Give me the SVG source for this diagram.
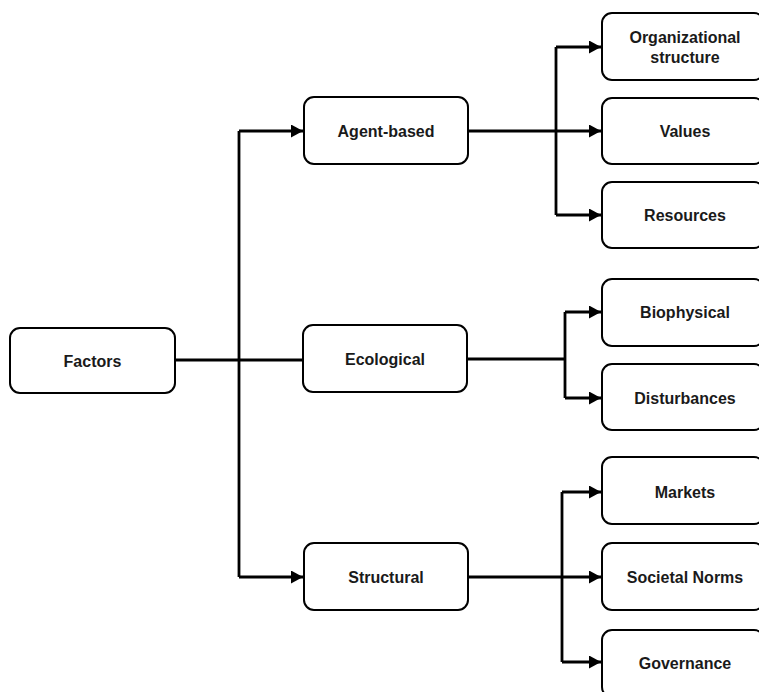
<svg xmlns="http://www.w3.org/2000/svg" width="759" height="692" viewBox="0 0 759 692">
<defs>
<marker id="ah" markerUnits="userSpaceOnUse" markerWidth="12" markerHeight="13" viewBox="0 0 12 13" refX="12" refY="6.5" orient="auto">
<path d="M0,0 L12,6.5 L0,13 Z" fill="#000"/>
</marker>
</defs>
<style>
.box{fill:#fff;stroke:#000;stroke-width:2}
.lbl{font-family:"Liberation Sans",Arial,sans-serif;font-weight:bold;font-size:16px;fill:#1a1a1a;text-anchor:middle;dominant-baseline:central}
.c{fill:none;stroke:#000;stroke-width:2.8}
.a{fill:none;stroke:#000;stroke-width:2.8;marker-end:url(#ah)}
</style>
<g id="connectors">
<path class="c" d="M175,360 H303"/>
<path class="c" d="M239,131 V577"/>
<path class="a" d="M239,131 H303"/>
<path class="a" d="M239,577 H303"/>
<path class="a" d="M468,131 H601"/>
<path class="c" d="M556,47 V215"/>
<path class="a" d="M556,47 H601"/>
<path class="a" d="M556,215 H601"/>
<path class="c" d="M467,359 H565"/>
<path class="c" d="M565,312 V398"/>
<path class="a" d="M565,312 H601"/>
<path class="a" d="M565,398 H601"/>
<path class="a" d="M468,577 H601"/>
<path class="c" d="M562,492 V662"/>
<path class="a" d="M562,492 H601"/>
<path class="a" d="M562,662 H601"/>
</g>
<g id="factors"><rect class="box" x="10" y="328" width="165" height="65" rx="10"/><text class="lbl" x="92.5" y="361">Factors</text></g>
<g id="agent-based"><rect class="box" x="304" y="97" width="164" height="67" rx="10"/><text class="lbl" x="386" y="131">Agent-based</text></g>
<g id="ecological"><rect class="box" x="303" y="325" width="164" height="67" rx="10"/><text class="lbl" x="385" y="359">Ecological</text></g>
<g id="structural"><rect class="box" x="304" y="543" width="164" height="67" rx="10"/><text class="lbl" x="386" y="577">Structural</text></g>
<g id="org"><rect class="box" x="602" y="13" width="162" height="67" rx="10"/><text class="lbl" x="685" y="37">Organizational</text><text class="lbl" x="685" y="57">structure</text></g>
<g id="values"><rect class="box" x="602" y="98" width="162" height="66" rx="10"/><text class="lbl" x="685" y="131">Values</text></g>
<g id="resources"><rect class="box" x="602" y="182" width="162" height="66" rx="10"/><text class="lbl" x="685" y="215">Resources</text></g>
<g id="biophysical"><rect class="box" x="602" y="279" width="162" height="67" rx="10"/><text class="lbl" x="685" y="312">Biophysical</text></g>
<g id="disturbances"><rect class="box" x="602" y="364" width="162" height="66" rx="10"/><text class="lbl" x="685" y="398">Disturbances</text></g>
<g id="markets"><rect class="box" x="602" y="457" width="162" height="67" rx="10"/><text class="lbl" x="685" y="492">Markets</text></g>
<g id="societal"><rect class="box" x="602" y="543" width="162" height="67" rx="10"/><text class="lbl" x="685" y="577">Societal Norms</text></g>
<g id="governance"><rect class="box" x="602" y="630" width="162" height="67" rx="10"/><text class="lbl" x="685" y="663">Governance</text></g>
</svg>
